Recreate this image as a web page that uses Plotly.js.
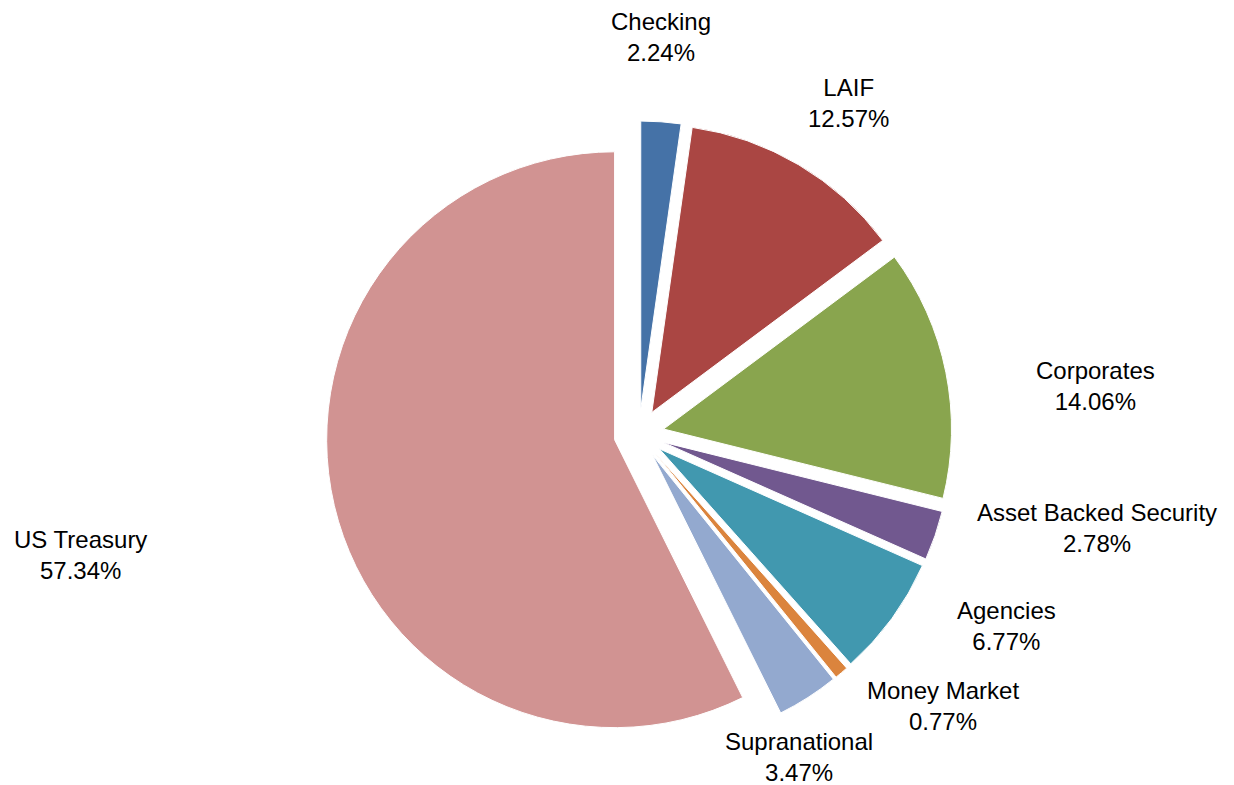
<!DOCTYPE html>
<html>
<head>
<meta charset="utf-8">
<script src="https://cdn.plot.ly/plotly-3.0.1.min.js"></script>
<style>html,body{margin:0;padding:0;background:#fff;}#chart{width:1234px;height:785px;}</style>
</head>
<body>
<div id="chart"></div>
<script>
const categories = ["Checking", "LAIF", "Corporates", "Asset Backed Security", "Agencies", "Money Market", "Supranational", "US Treasury"];
const shares = [2.24, 12.57, 14.06, 2.78, 6.77, 0.77, 3.47, 57.34];
const colors = ["#4572A7", "#AA4643", "#89A54E", "#71588F", "#4198AF", "#DB843D", "#93A9CF", "#D19392"];
// label centres in pixels (x, y from top)
const labelPx = [[661, 37], [848, 103], [1095, 386], [1097, 528], [1006, 626], [943, 706], [799, 757], [80, 555]];

const W = 1234, H = 785;
const pullFrac = 0.0871;

const annotations = categories.map((c, i) => ({
  x: labelPx[i][0] / W, y: 1 - labelPx[i][1] / H,
  xref: 'paper', yref: 'paper', xanchor: 'center', yanchor: 'middle',
  align: 'center', showarrow: false,
  text: c + '<br>' + shares[i].toFixed(2) + '%',
  font: {family: 'Liberation Sans, Arial, sans-serif', size: 24, color: '#000'}
}));

const trace = {
  type: 'pie',
  labels: categories,
  values: shares,
  sort: false,
  direction: 'clockwise',
  rotation: 0,
  pull: categories.map(() => pullFrac),
  marker: {colors: colors, line: {color: '#fff', width: 1}},
  textinfo: 'none',
  hoverinfo: 'label+percent',
  domain: {x: [326 / W, 952 / W], y: [38 / H, 664 / H]},
  automargin: false
};

Plotly.newPlot('chart', [trace], {
  width: W, height: H,
  margin: {l: 0, r: 0, t: 0, b: 0},
  showlegend: false,
  paper_bgcolor: '#fff',
  annotations: annotations
}, {displayModeBar: false, staticPlot: true});
</script>
</body>
</html>
